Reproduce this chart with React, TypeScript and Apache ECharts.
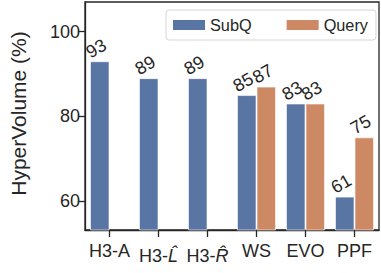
import React, { useEffect, useRef } from 'react';
import * as echarts from 'echarts';

const categories = ['H3-A', 'H3-L', 'H3-R', 'WS', 'EVO', 'PPF'];
const subqValues: (number | null)[] = [93, 89, 89, 85, 83, 61];
const queryValues: (number | null)[] = [null, null, null, 87, 83, 75];
const yTicks = [60, 80, 100];
const seriesNames = ['SubQ', 'Query'];

export default function App() {
  const ref = useRef<HTMLDivElement>(null);
  useEffect(() => {
    document.body.style.margin = '0';
    const chart = echarts.init(ref.current!, null, { renderer: 'svg' });
    const font = '"Liberation Sans", Arial, sans-serif';
    const textColor = '#262626';
    const fs = 18;
    const barW = 19.5;

    const labelSeries = (values: (number | null)[], shift: number, id: string) => ({
      id,
      type: 'custom',
      silent: true,
      z: 5,
      data: values
        .map((v, i) => (v == null ? null : [i, v]))
        .filter((d) => d !== null),
      encode: { x: 0, y: 1 },
      renderItem: (_params: any, api: any) => {
        const v = api.value(1);
        const p = api.coord([api.value(0), v]);
        return {
          type: 'text',
          x: p[0] + shift + 1,
          y: p[1] - 5,
          rotation: Math.PI / 6,
          style: {
            text: String(v),
            align: 'center',
            verticalAlign: 'bottom',
            fontSize: fs,
            fontFamily: font,
            fill: textColor,
          },
        };
      },
    });

    chart.setOption({
      animation: false,
      textStyle: { fontFamily: font },
      grid: {
        show: true,
        left: 73,
        right: 2,
        top: 2,
        bottom: 43,
        borderColor: textColor,
        borderWidth: 1.3,
      },
      legend: {
        data: seriesNames,
        left: 166,
        top: 10,
        icon: 'rect',
        itemWidth: 32,
        itemHeight: 10,
        itemGap: 35,
        padding: [7, 8, 7, 7],
        borderColor: '#d4d4d4',
        borderWidth: 1,
        borderRadius: 3,
        backgroundColor: '#fff',
        itemStyle: { borderWidth: 0 },
        textStyle: { fontSize: 16.3, color: textColor, fontFamily: font },
      },
      xAxis: {
        type: 'category',
        data: categories,
        axisLine: { show: true, lineStyle: { color: textColor, width: 1.3 } },
        axisTick: { show: true, alignWithLabel: true, length: 7, lineStyle: { color: textColor, width: 1.3 } },
        axisLabel: {
          interval: 0,
          margin: 12,
          fontSize: fs,
          color: textColor,
          fontFamily: font,
          formatter: (v: string) =>
            v === 'H3-L' ? '{n|H3-}{i|L\u0302}' : v === 'H3-R' ? '{n|H3-}{i|R\u0302}' : v,
          rich: {
            n: { fontSize: fs, color: textColor, fontFamily: font, lineHeight: 23, verticalAlign: 'bottom' },
            i: { fontSize: fs, color: textColor, fontFamily: font, fontStyle: 'italic', lineHeight: 23, verticalAlign: 'bottom' },
          },
        },
      },
      yAxis: {
        type: 'value',
        min: 53.1,
        max: 107,
        name: 'HyperVolume (%)',
        nameLocation: 'middle',
        nameGap: 56,
        nameTextStyle: { fontSize: 21, color: textColor, fontFamily: font, padding: [0, 0, 0, 5] },
        splitLine: { show: false },
        axisLine: { show: true, lineStyle: { color: textColor, width: 1.3 } },
        axisTick: { show: true, length: 7, customValues: yTicks, lineStyle: { color: textColor, width: 1.3 } },
        axisLabel: { customValues: yTicks, margin: 5, fontSize: fs, color: textColor, fontFamily: font },
      },
      series: [
        {
          name: seriesNames[0],
          type: 'bar',
          data: subqValues,
          barWidth: barW,
          barGap: '0%',
          itemStyle: { color: '#5975a4', borderColor: 'rgba(255,255,255,0.6)', borderWidth: 1 },
        },
        {
          name: seriesNames[1],
          type: 'bar',
          data: queryValues,
          barWidth: barW,
          barGap: '0%',
          itemStyle: { color: '#cc8963', borderColor: 'rgba(255,255,255,0.6)', borderWidth: 1 },
        },
        labelSeries(subqValues, -barW / 2, 'subqLabels'),
        labelSeries(queryValues, barW / 2, 'queryLabels'),
      ],
    });
    return () => chart.dispose();
  }, []);
  return <div ref={ref} style={{ width: 381, height: 273 }} />;
}
